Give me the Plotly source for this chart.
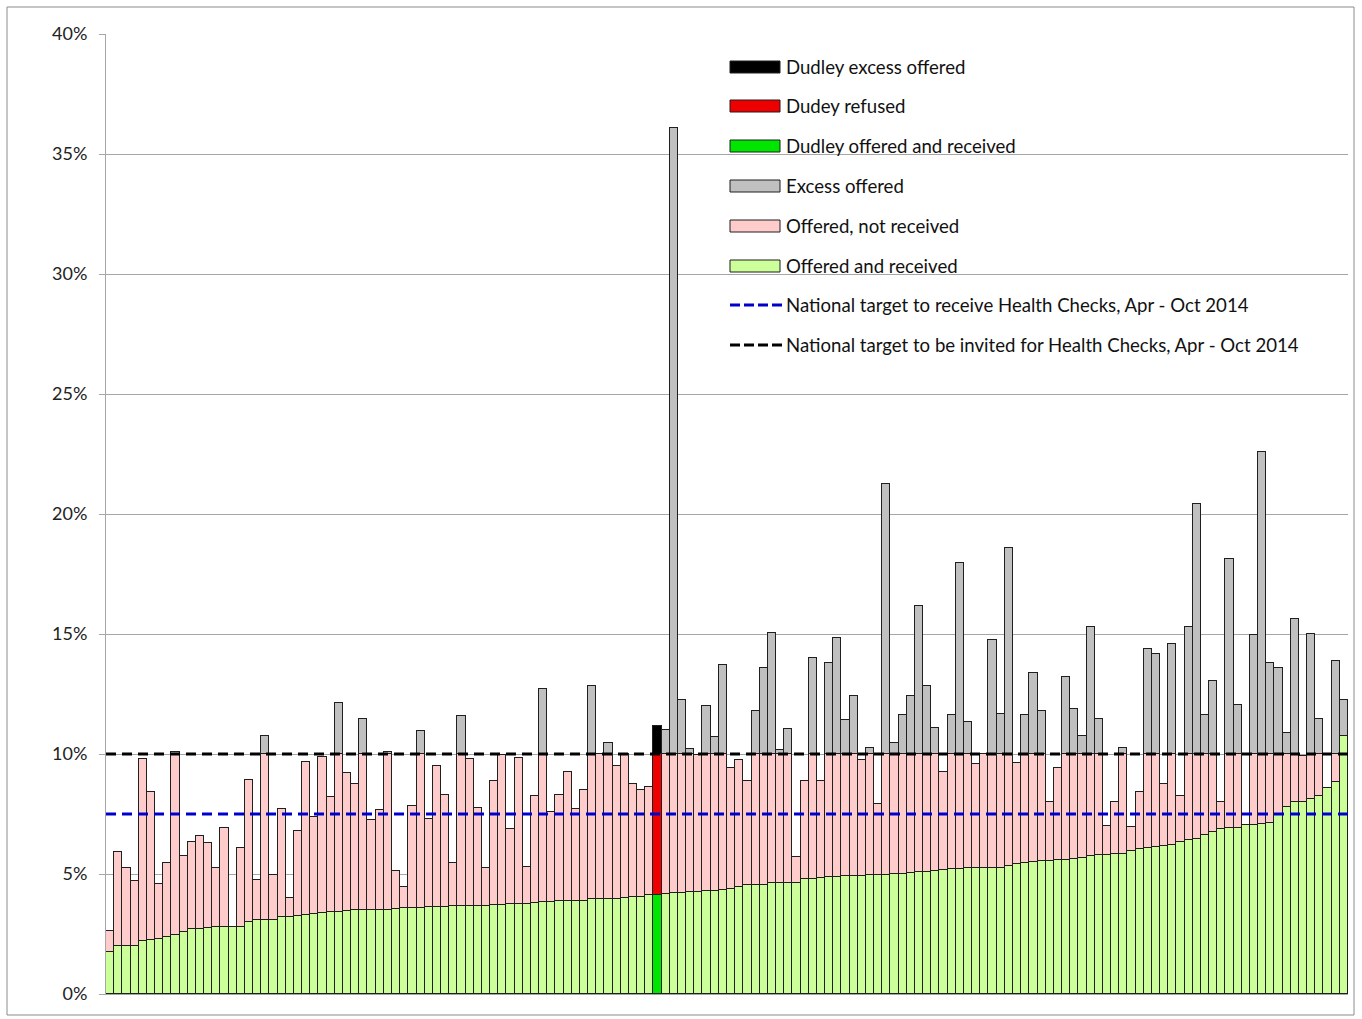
import plotly.graph_objects as go

# ---------------- data (percent of eligible population) ----------------
received = [
    1.74, 2.02, 2.02, 2.02, 2.20, 2.26, 2.31, 2.38, 2.47, 2.60,
    2.70, 2.72, 2.75, 2.80, 2.80, 2.80, 2.80, 2.99, 3.10, 3.10,
    3.10, 3.20, 3.22, 3.27, 3.30, 3.34, 3.38, 3.41, 3.41, 3.46,
    3.48, 3.48, 3.52, 3.52, 3.52, 3.55, 3.58, 3.58, 3.60, 3.62,
    3.62, 3.63, 3.66, 3.66, 3.67, 3.68, 3.68, 3.70, 3.71, 3.73,
    3.73, 3.77, 3.78, 3.83, 3.83, 3.87, 3.87, 3.87, 3.88, 3.94,
    3.97, 3.97, 3.97, 3.99, 4.03, 4.06, 4.12, 4.14, 4.18, 4.22,
    4.22, 4.23, 4.26, 4.28, 4.28, 4.33, 4.38, 4.44, 4.53, 4.53,
    4.55, 4.63, 4.63, 4.63, 4.64, 4.80, 4.80, 4.82, 4.87, 4.87,
    4.91, 4.91, 4.91, 4.94, 4.94, 4.95, 4.98, 5.00, 5.05, 5.07,
    5.10, 5.12, 5.16, 5.19, 5.19, 5.23, 5.23, 5.24, 5.26, 5.27,
    5.33, 5.41, 5.44, 5.48, 5.54, 5.55, 5.58, 5.60, 5.62, 5.68,
    5.77, 5.78, 5.80, 5.83, 5.83, 5.94, 6.06, 6.10, 6.13, 6.15,
    6.20, 6.35, 6.43, 6.45, 6.64, 6.76, 6.88, 6.92, 6.93, 7.03,
    7.06, 7.08, 7.13, 7.48, 7.80, 8.01, 8.02, 8.13, 8.24, 8.59,
    8.83, 10.77,
]
offered = [
    2.62, 5.92, 5.26, 4.72, 9.78, 8.41, 4.59, 5.47, 10.09, 5.77,
    6.33, 6.58, 6.28, 5.26, 6.92, 2.80, 6.08, 8.91, 4.74, 10.74,
    4.97, 7.69, 3.99, 6.78, 9.67, 7.38, 9.88, 8.22, 12.12, 9.22,
    8.76, 11.45, 7.24, 7.65, 10.08, 5.12, 4.44, 7.85, 10.95, 7.30,
    9.48, 8.31, 5.47, 11.60, 9.80, 7.76, 5.26, 8.87, 9.94, 6.88,
    9.83, 5.30, 8.26, 12.72, 7.58, 8.31, 9.26, 7.69, 8.51, 12.83,
    9.98, 10.44, 9.48, 9.98, 8.77, 8.48, 8.62, 11.16, 10.99, 36.10,
    12.27, 10.19, 9.95, 12.02, 10.72, 13.69, 9.42, 9.77, 8.87, 11.81,
    13.59, 15.06, 10.15, 11.06, 5.72, 8.87, 13.99, 8.87, 13.80, 14.85,
    11.41, 12.42, 9.77, 10.23, 7.90, 21.23, 10.44, 11.62, 12.42, 16.15,
    12.85, 11.10, 9.24, 11.64, 17.97, 11.35, 9.60, 9.99, 14.73, 11.68,
    18.59, 9.61, 11.64, 13.36, 11.78, 8.02, 9.41, 13.21, 11.89, 10.75,
    15.29, 11.44, 7.01, 8.02, 10.25, 6.95, 8.42, 14.38, 14.18, 8.74,
    14.57, 8.27, 15.28, 20.40, 11.64, 13.04, 7.98, 18.11, 12.04, 7.05,
    14.94, 22.60, 13.78, 13.60, 10.88, 15.64, 9.93, 15.01, 11.47, 8.59,
    13.87, 11.47,
]
dudley_index = 67
target_receive = 7.5
target_invite = 10.0
y_tick_values = [0, 5, 10, 15, 20, 25, 30, 35, 40]
y_tick_labels = ["0%", "5%", "10%", "15%", "20%", "25%", "30%", "35%", "40%"]
legend_labels = [
    "Dudley excess offered",
    "Dudey refused",
    "Dudley offered and received",
    "Excess offered",
    "Offered, not received",
    "Offered and received",
    "National target to receive Health Checks, Apr - Oct 2014",
    "National target to be invited for Health Checks, Apr - Oct 2014",
]

# ---------------- styles ----------------
C_GREEN = "#CCFF99"
C_PINK = "#FFCCCC"
C_GREY = "#C0C0C0"
C_D_GREEN = "#00E600"
C_D_RED = "#EE0000"
C_D_BLACK = "#000000"
C_BLUE = "#0000CC"
EDGE = dict(color="#1f1f1f", width=1)
FONT = "Lato, 'Open Sans', sans-serif"

W, H = 1362, 1019
L, R, T, B = 106, 1348, 34, 994  # plot area in px

n = len(received)
xs = list(range(n))


def nz(v):
    return v if v > 1e-9 else None


green = [None if i == dudley_index else received[i] for i in xs]
pink = [None if i == dudley_index else nz(min(offered[i], target_invite) - received[i]) for i in xs]
grey = [None if i == dudley_index else nz(offered[i] - target_invite) for i in xs]

d_rec = received[dudley_index]
d_off = offered[dudley_index]
d_ref = min(d_off, target_invite) - d_rec
d_exc = max(d_off - target_invite, 0)

fig = go.Figure()
fig.add_trace(go.Bar(x=xs, y=green, name=legend_labels[5], marker=dict(color=C_GREEN, line=EDGE)))
fig.add_trace(go.Bar(x=xs, y=pink, name=legend_labels[4], marker=dict(color=C_PINK, line=EDGE)))
fig.add_trace(go.Bar(x=xs, y=grey, name=legend_labels[3], marker=dict(color=C_GREY, line=EDGE)))
fig.add_trace(go.Bar(x=[dudley_index], y=[d_rec], name=legend_labels[2], marker=dict(color=C_D_GREEN, line=EDGE)))
fig.add_trace(go.Bar(x=[dudley_index], y=[d_ref], name=legend_labels[1], marker=dict(color=C_D_RED, line=EDGE)))
fig.add_trace(go.Bar(x=[dudley_index], y=[d_exc], name=legend_labels[0], marker=dict(color=C_D_BLACK, line=EDGE)))

fig.add_trace(go.Scatter(x=[-0.5, n - 0.5], y=[target_receive] * 2, mode="lines",
                         name=legend_labels[6], line=dict(color=C_BLUE, width=3.2, dash="10px,6px")))
fig.add_trace(go.Scatter(x=[-0.5, n - 0.5], y=[target_invite] * 2, mode="lines",
                         name=legend_labels[7], line=dict(color="#000000", width=3.2, dash="10px,6px")))


def px(x):
    return (x - L) / (R - L)


def py(y):
    return (B - y) / (B - T)


shapes = []
annotations = []
# outer chart border
shapes.append(dict(type="rect", xref="paper", yref="paper", x0=px(7), x1=px(1354), y0=py(1015), y1=py(7),
                   line=dict(color="#8c8c8c", width=1), fillcolor="rgba(0,0,0,0)", layer="below"))

# manual legend
row_y = [67, 106, 146, 186, 226, 266, 305, 345]
swatch_fill = [C_D_BLACK, C_D_RED, C_D_GREEN, C_GREY, C_PINK, C_GREEN]
for k, label in enumerate(legend_labels):
    yc = row_y[k]
    if k < 6:
        shapes.append(dict(type="rect", xref="paper", yref="paper",
                           x0=px(730), x1=px(780), y0=py(yc + 6), y1=py(yc - 6),
                           fillcolor=swatch_fill[k], line=dict(color="#1f1f1f", width=1)))
    else:
        col = C_BLUE if k == 6 else "#000000"
        shapes.append(dict(type="line", xref="paper", yref="paper",
                           x0=px(730), x1=px(783), y0=py(yc), y1=py(yc),
                           line=dict(color=col, width=3.2, dash="10px,4px")))
    annotations.append(dict(xref="paper", yref="paper", x=px(784), y=py(yc), text=label,
                            showarrow=False, xanchor="left", yanchor="middle",
                            font=dict(family=FONT, size=18.6, color="#111111")))

fig.update_layout(
    width=W, height=H,
    margin=dict(l=L, r=W - R, t=T, b=H - B, pad=0),
    barmode="stack", bargap=0,
    paper_bgcolor="white", plot_bgcolor="white",
    showlegend=False,
    font=dict(family=FONT, size=17, color="#222222"),
    shapes=shapes, annotations=annotations,
    xaxis=dict(range=[-0.5, n - 0.5], showticklabels=False, showgrid=False, zeroline=False,
               showline=True, linecolor="#a6a6a6", ticks=""),
    yaxis=dict(range=[0, 40], tickvals=y_tick_values, ticktext=y_tick_labels,
               showgrid=True, gridcolor="#a6a6a6", gridwidth=1, zeroline=False,
               showline=True, linecolor="#a6a6a6", ticks="outside", ticklen=6, tickcolor="#a6a6a6",
               ticklabelstandoff=8, tickfont=dict(family=FONT, size=18, color="#222222")),
)

fig.write_html("out.html", config={"displayModeBar": False},
               post_script="document.body.style.margin='0';document.body.style.overflow='hidden';")
